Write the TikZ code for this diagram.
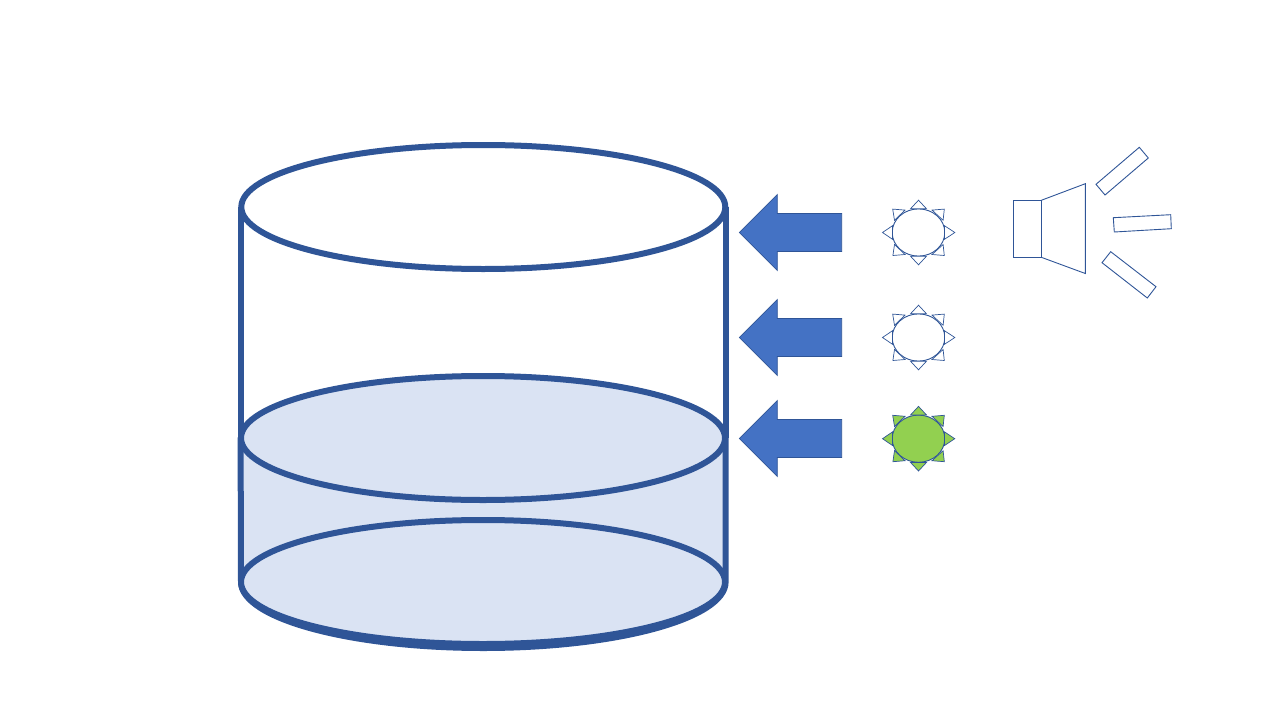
\documentclass[tikz,border=0pt]{standalone}
\definecolor{dk}{HTML}{2F5597}
\definecolor{arrowblue}{HTML}{4472C4}
\definecolor{lightblue}{HTML}{DAE3F3}
\definecolor{sungreen}{HTML}{92D050}
\tikzset{
  thick line/.style={draw=dk,line width=6pt,line join=round},
  thin line/.style={draw=dk,line width=0.9pt,line join=miter},
  block arrow/.style={draw=dk,line width=0.75pt,fill=arrowblue,line join=miter},
}
% sun: #1 centre y, #2 fill
\newcommand{\mysun}[2]{%
  \begin{scope}[shift={(918.5,#1)}]
    \path[thin line,fill=#2] (0,0) ellipse [x radius=26.3,y radius=23.6];
    \path[thin line,fill=#2,line width=0.7pt]
      (0,-32.3) -- (8,-23.7) -- (-8,-23.7) -- cycle
      (0,32.3) -- (8,23.7) -- (-8,23.7) -- cycle
      (-36,0) -- (-26,-6.8) -- (-26,6.8) -- cycle
      (36.3,0) -- (26,-6.8) -- (26,6.8) -- cycle
      (-25.8,-23.4) -- (-13.5,-22.4) -- (-24,-12.2) -- cycle
      (25.8,-23.4) -- (13.5,-22.4) -- (24.6,-12.2) -- cycle
      (-25.6,23) -- (-24,12) -- (-13.5,22) -- cycle
      (25.8,23) -- (24.6,12) -- (13.5,22) -- cycle;
  \end{scope}}
\newcommand{\myarrow}[1]{%
  \path[block arrow,shift={(0,#1)}] (739.3,0) -- (777.3,-38) -- (777.3,-19) -- (841.7,-19)
    -- (841.7,19) -- (777.3,19) -- (777.3,38) -- cycle;}
\begin{document}
\begin{tikzpicture}[x=1pt,y=-1pt]
\useasboundingbox (0,0) rectangle (1280,720);
% upper cylinder
\path[thick line] (241,207) -- (241,438) (725.5,207) -- (725.5,438);
% lower cylinder
\path[thick line,fill=lightblue] (240.6,438) -- (241,582)
  arc [start angle=180,end angle=0,x radius=242.3,y radius=66] -- (725.5,438) -- cycle;
\path[thick line,fill=white] (483.3,207) ellipse [x radius=242,y radius=62];
\path[thick line,fill=lightblue] (483,438) ellipse [x radius=242,y radius=62];
\path[thick line,fill=lightblue] (483,582) ellipse [x radius=242,y radius=62];
% arrows
\myarrow{232.5}
\myarrow{337.5}
\myarrow{438.5}
% suns
\mysun{232.5}{white}
\mysun{337.5}{white}
\mysun{438.7}{sungreen}
% speaker
\path[thin line] (1013.3,200.3) rectangle (1041.3,257.3);
\path[thin line] (1041.3,200.3) -- (1085.3,183.7) -- (1085.3,273.5) -- (1041.3,257.3);
\path[thin line] (1139.3,147.3) -- (1148.3,158) -- (1105,195) -- (1096,184.3) -- cycle;
\path[thin line] (1113.3,217.7) -- (1170.7,214.7) -- (1171.3,228.7) -- (1114.3,232) -- cycle;
\path[thin line] (1110.7,251.7) -- (1156,286.7) -- (1147.3,298) -- (1102,262.7) -- cycle;
\end{tikzpicture}
\end{document}
